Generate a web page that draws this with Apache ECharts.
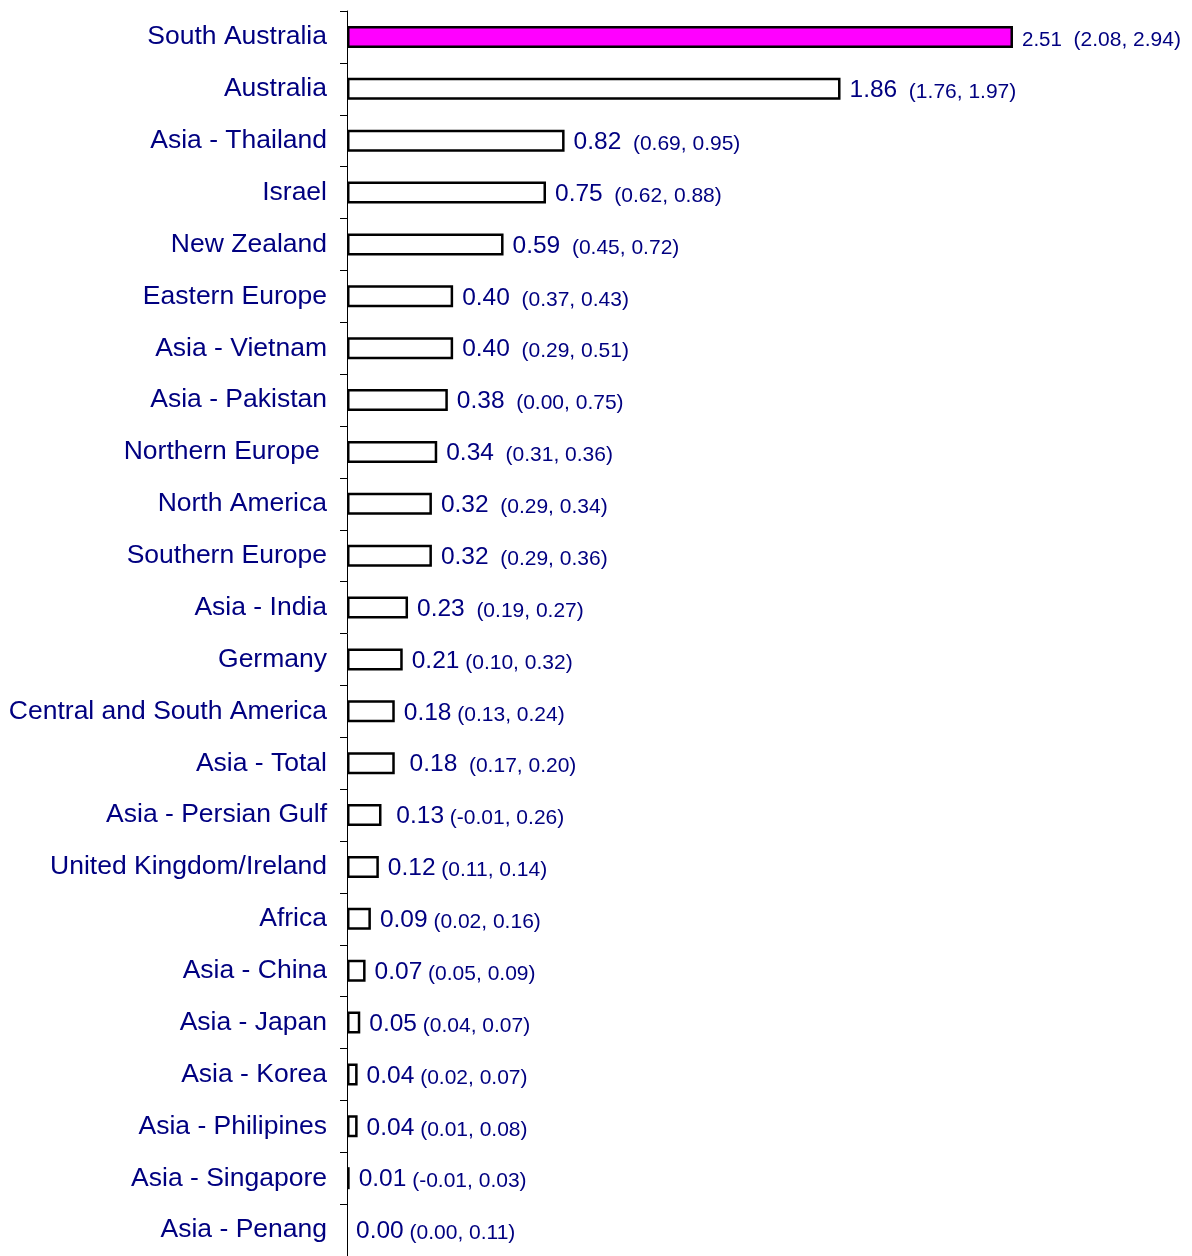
<!DOCTYPE html>
<html>
<head>
<meta charset="utf-8">
<script src="https://cdn.jsdelivr.net/npm/echarts@6/dist/echarts.min.js"></script>
<style>
html,body{margin:0;padding:0;background:#fff;}
#chart{width:1192px;height:1256px;}
</style>
</head>
<body>
<div id="chart"></div>
<script>
var categories = ["South Australia","Australia","Asia - Thailand","Israel","New Zealand","Eastern Europe","Asia - Vietnam","Asia - Pakistan","Northern Europe ","North America","Southern Europe","Asia - India","Germany","Central and South America","Asia - Total","Asia - Persian Gulf","United Kingdom/Ireland","Africa","Asia - China","Asia - Japan","Asia - Korea","Asia - Philipines","Asia - Singapore","Asia - Penang"];
var values = [2.51,1.86,0.82,0.75,0.59,0.40,0.40,0.38,0.34,0.32,0.32,0.23,0.21,0.18,0.18,0.13,0.12,0.09,0.07,0.05,0.04,0.04,0.01,0.00];
var lower = [2.08,1.76,0.69,0.62,0.45,0.37,0.29,0.00,0.31,0.29,0.29,0.19,0.10,0.13,0.17,-0.01,0.11,0.02,0.05,0.04,0.02,0.01,-0.01,0.00];
var upper = [2.94,1.97,0.95,0.88,0.72,0.43,0.51,0.75,0.36,0.34,0.36,0.27,0.32,0.24,0.20,0.26,0.14,0.16,0.09,0.07,0.07,0.08,0.03,0.11];

var navy = '#000080';
var font = 'Liberation Sans, Arial, sans-serif';
var chart = echarts.init(document.getElementById('chart'), null, {renderer:'canvas'});
var data = values.map(function(v,i){
  return {
    value: v,
    itemStyle: {color: i === 0 ? '#ff00ff' : '#ffffff', borderColor:'#000', borderWidth: v === 0 ? 0 : 2.5}
  };
});
chart.setOption({
  animation:false,
  backgroundColor:'#fff',
  grid:{left:347, top:11, width:796, height:1253},
  xAxis:{type:'value', min:0, max:3, show:false},
  yAxis:{
    type:'category', inverse:true, data:categories,
    axisLine:{show:true, lineStyle:{color:'#000', width:1}},
    axisTick:{show:true, inside:false, length:7, lineStyle:{color:'#000'}},
    axisLabel:{color:navy, fontSize:26.5, fontFamily:font, margin:20, lineHeight:30, verticalAlign:'middle', padding:[4,0,0,0]},
    splitLine:{show:false}
  },
  series:[{
    type:'bar', data:data, barWidth:22,
    label:{
      show:true, position:'right', distance:9,
      formatter:function(p){
        var i = p.dataIndex;
        var lead = (i === 14 || i === 15) ? ' ' : '';
        var sep = (i <= 11 || i === 14) ? '  ' : ' ';
        var big = i === 0 ? 's' : 'v';
        return lead + '{' + big + '|' + values[i].toFixed(2) + '}' + sep + '{c|(' + lower[i].toFixed(2) + ', ' + upper[i].toFixed(2) + ')}';
      },
      color:navy, fontSize:21, fontFamily:font,
      rich:{
        v:{fontSize:24.5, color:navy, fontFamily:font, verticalAlign:'bottom', lineHeight:28},
        s:{fontSize:20.5, color:navy, fontFamily:font, verticalAlign:'bottom', lineHeight:28},
        c:{fontSize:21, color:navy, fontFamily:font, verticalAlign:'bottom', lineHeight:26}
      }
    }
  }]
});
</script>
</body>
</html>
